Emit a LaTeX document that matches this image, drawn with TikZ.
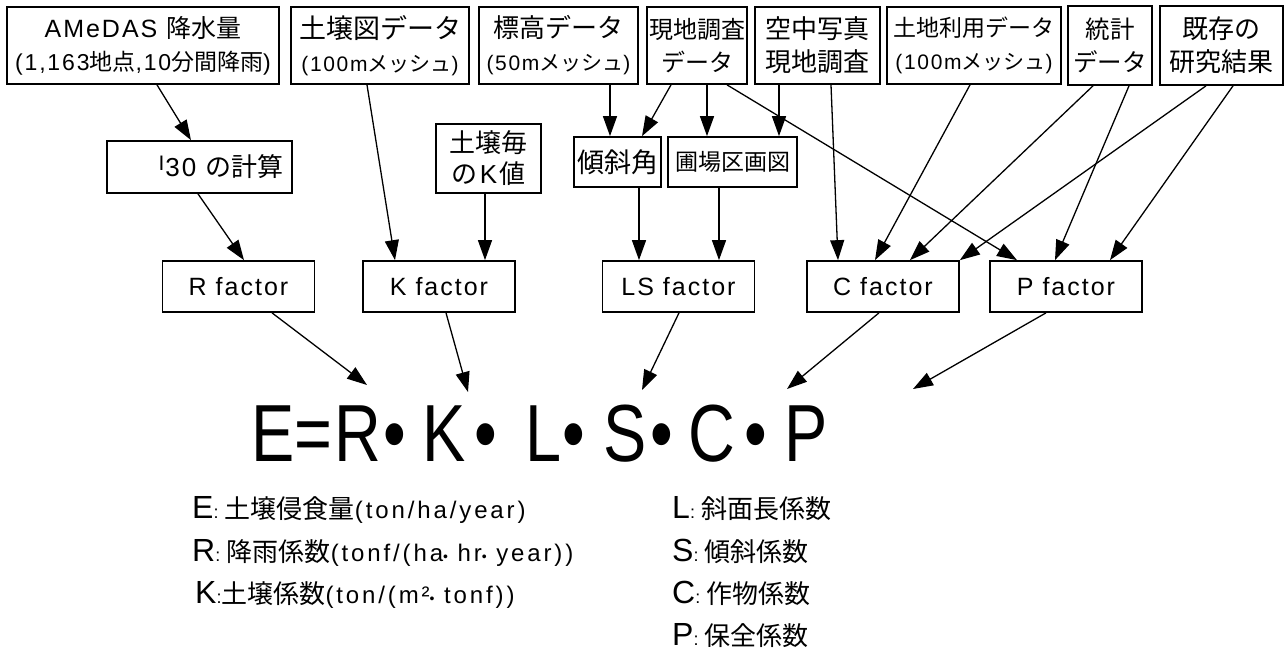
\documentclass[tikz,border=0pt]{standalone}
\usepackage{fontspec}
\setmainfont[LetterSpace=8]{Liberation Sans}
\newfontfamily\jp{Noto Sans CJK JP}
\newfontfamily\legf[LetterSpace=12]{Liberation Sans}
\newfontfamily\eqf[FakeStretch=0.8]{Liberation Sans}
\usetikzlibrary{arrows.meta}
\newcommand\J[1]{{\jp #1}}
\newcommand\fsz[2]{\fontsize{#1pt}{#2pt}\selectfont}
\begin{document}
\begin{tikzpicture}[x=1pt,y=-1pt,
  box/.style={draw, line width=1.7pt, inner sep=0pt, align=center},
  arr/.style={line width=1.3pt, -{Triangle[length=20pt,width=14pt]}},
  fbox/.style={box, minimum width=152pt, minimum height=51pt, font={\fsz{25}{30}}},
  leg/.style={anchor=base west, inner sep=0pt}
]
\fill[white] (0,0) rectangle (1286,654);
\useasboundingbox (0,0) rectangle (1286,654);

% top row
\node[box, minimum width=272pt, minimum height=77pt, font={\fsz{25}{33}}] (amedas) at (143,45.5)
  {AMeDAS \J{降水量}\\{\fsz{23}{33}(1,163\J{地点},10\J{分間降雨})}};
\node[box, minimum width=178pt, minimum height=77pt, font={\fsz{27}{33}}] (dozu) at (380,45.5)
  {\J{土壌図データ}\\{\fsz{21}{33}(100m\J{メッシュ})}};
\node[box, minimum width=159pt, minimum height=77pt, font={\fsz{26}{33}}] (hyoko) at (558.5,45.5)
  {\J{標高データ}\\{\fsz{21}{33}(50m\J{メッシュ})}};
\node[box, minimum width=100pt, minimum height=77pt, font={\fsz{24}{33}}] (genchi) at (697,45.5)
  {\J{現地調査}\\\J{データ}};
\node[box, minimum width=125pt, minimum height=77pt, font={\fsz{26}{33}}] (kuchu) at (817.5,45.5)
  {\J{空中写真}\\\J{現地調査}};
\node[box, minimum width=174pt, minimum height=77pt, font={\fsz{23}{33}}] (tochi) at (974,45.5)
  {\J{土地利用データ}\\{\fsz{21}{33}(100m\J{メッシュ})}};
\node[box, minimum width=84pt, minimum height=79pt, font={\fsz{24.5}{33}}] (tokei) at (1110,45.5)
  {\J{統計}\\\J{データ}};
\node[box, minimum width=123pt, minimum height=79pt, font={\fsz{26}{33}}] (kizon) at (1221.5,45.5)
  {\J{既存の}\\\J{研究結果}};

% second row
\node[box, minimum width=185pt, minimum height=52pt, text width=167pt, align=right, font={\fsz{26}{30}}] (i30) at (199.5,167)
  {\raisebox{6pt}{\fsz{21}{21}I}\kern1pt 30 \J{の計算}};
\node[box, minimum width=105pt, minimum height=69pt, font={\fsz{26}{31}}] (kchi) at (488.5,158.5)
  {\J{土壌毎}\\\J{の}\kern2pt K\kern2pt\J{値}};
\node[box, minimum width=87pt, minimum height=50pt, font={\fsz{27}{30}}] (keisha) at (617.5,162) {\J{傾斜角}};
\node[box, minimum width=129pt, minimum height=50pt, font={\fsz{23}{30}}] (hojo) at (732.5,162) {\J{圃場区画図}};

% factor row
\node[fbox] (Rf) at (238.5,286.5) {R factor};
\node[fbox] (Kf) at (439,286.5) {K factor};
\node[fbox] (LSf) at (678.5,286.5) {LS factor};
\node[fbox] (Cf) at (883,286.5) {C factor};
\node[fbox] (Pf) at (1066,286.5) {P factor};

% equation
\node[anchor=base west, inner sep=0pt, font={\eqf\fsz{81}{81}}] (eq) at (251,461)
  {E=\kern2pt R\kern2pt •\kern17pt K\kern9pt •\kern28pt L\kern1pt •\kern18pt S\kern4pt •\kern15pt C\kern10pt •\kern17pt P};
\coordinate (tR) at (367,385);
\coordinate (tK) at (468,392);
\coordinate (tL) at (642,390);
\coordinate (tC) at (787,389);
\coordinate (tP) at (913,389);

% arrows top -> middle
\draw[arr] ([xshift=14pt]amedas.south) -- ([xshift=-8.5pt]i30.north);
\draw[arr] ([xshift=-13pt]dozu.south) -- ([xshift=-44pt]Kf.north);
\draw[arr] ([xshift=51.5pt]hyoko.south) -- ([xshift=-7.5pt]keisha.north);
\draw[arr] ([xshift=-26pt]genchi.south) -- ([xshift=24.5pt]keisha.north);
\draw[arr] ([xshift=10pt]genchi.south) -- ([xshift=-25.5pt]hojo.north);
\draw[arr] ([xshift=-38.5pt]kuchu.south) -- ([xshift=46.5pt]hojo.north);
\draw[arr] ([xshift=30pt]genchi.south) -- ([xshift=-49pt]Pf.north);
\draw[arr] ([xshift=13.5pt]kuchu.south) -- ([xshift=-45pt]Cf.north);
\draw[arr] ([xshift=-4pt]tochi.south) -- ([xshift=-8pt]Cf.north);
\draw[arr] ([xshift=-17pt]tokei.south) -- ([xshift=27pt]Cf.north);
\draw[arr] ([xshift=19pt]tokei.south) -- ([xshift=-11pt]Pf.north);
\draw[arr] ([xshift=-15.5pt]kizon.south) -- (Cf.north east);
\draw[arr] ([xshift=11.5pt]kizon.south) -- ([xshift=44pt]Pf.north);
% middle -> factors
\draw[arr] ([xshift=-1.5pt]i30.south) -- ([xshift=5.5pt]Rf.north);
\draw[arr] ([xshift=-3.5pt]kchi.south) -- ([xshift=46pt]Kf.north);
\draw[arr] ([xshift=21.5pt]keisha.south) -- ([xshift=-39.5pt]LSf.north);
\draw[arr] ([xshift=-13.5pt]hojo.south) -- ([xshift=40.5pt]LSf.north);
% factors -> equation
\draw[arr] ([xshift=33.5pt]Rf.south) -- (tR);
\draw[arr] ([xshift=7pt]Kf.south) -- (tK);
\draw[arr] ([xshift=0.5pt]LSf.south) -- (tL);
\draw[arr] ([xshift=-4pt]Cf.south) -- (tC);
\draw[arr] ([xshift=-20pt]Pf.south) -- (tP);

% legend
\node[leg] (lE) at (192,518) {\fsz{32}{32}E\fsz{18}{18}:\ \fsz{26}{26}\J{土壌侵食量}\legf\fsz{24}{24}(ton/ha/year)};
\node[leg] (lR) at (192,561) {\fsz{32}{32}R\fsz{18}{18}:\ \fsz{26}{26}\J{降雨係数}\legf\fsz{24}{24}(tonf/(ha{\fsz{14}{14}•} hr{\fsz{14}{14}•} year))};
\node[leg] (lK) at (195,603) {\fsz{32}{32}K\fsz{18}{18}:\fsz{26}{26}\J{土壌係数}\legf\fsz{24}{24}(ton/(m²{\fsz{14}{14}•} tonf))};
\node[leg] (lL) at (672,518) {\fsz{32}{32}L\fsz{18}{18}:\ \fsz{26}{26}\J{斜面長係数}};
\node[leg] (lS) at (672,561) {\fsz{32}{32}S\fsz{18}{18}:\ \fsz{26}{26}\J{傾斜係数}};
\node[leg] (lC) at (672,603) {\fsz{32}{32}C\fsz{18}{18}:\ \fsz{26}{26}\J{作物係数}};
\node[leg] (lP) at (672,645) {\fsz{32}{32}P\fsz{18}{18}:\ \fsz{26}{26}\J{保全係数}};
\end{tikzpicture}
\end{document}
